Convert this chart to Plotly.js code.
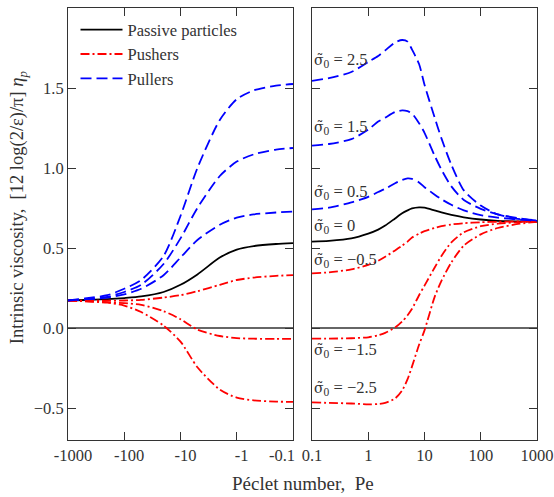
<!DOCTYPE html>
<html>
<head>
<meta charset="utf-8">
<script src="https://cdn.plot.ly/plotly-3.0.1.min.js"></script>
<style>html,body{margin:0;padding:0;background:#fff;}#chart{width:554px;height:497px;}</style>
</head>
<body>
<div id="chart"></div>
<script>
// Negative Péclet numbers (left panel)
const peLeft = [-1000, -500, -200, -100, -50, -20, -10, -5, -2, -1, -0.5, -0.2, -0.1];
const passiveL = [0.172, 0.175, 0.18, 0.187, 0.197, 0.225, 0.27, 0.335, 0.44, 0.49, 0.512, 0.525, 0.53];
const pull05L = [0.172, 0.178, 0.19, 0.21, 0.245, 0.33, 0.44, 0.55, 0.645, 0.69, 0.71, 0.722, 0.728];
const pull15L = [0.172, 0.18, 0.195, 0.225, 0.27, 0.40, 0.56, 0.75, 0.95, 1.04, 1.085, 1.115, 1.125];
const pull25L = [0.172, 0.185, 0.205, 0.245, 0.30, 0.45, 0.70, 1.00, 1.30, 1.43, 1.485, 1.515, 1.525];
const push05L = [0.172, 0.171, 0.171, 0.172, 0.176, 0.19, 0.205, 0.23, 0.27, 0.30, 0.315, 0.326, 0.33];
const push15L = [0.172, 0.168, 0.162, 0.155, 0.145, 0.105, 0.055, -0.01, -0.05, -0.063, -0.067, -0.068, -0.068];
const push25L = [0.172, 0.167, 0.158, 0.14, 0.10, 0.015, -0.085, -0.245, -0.385, -0.435, -0.452, -0.46, -0.462];

// Positive Péclet numbers (right panel)
const peRight = [0.1, 0.2, 0.5, 1, 1.5, 2, 3, 4, 5, 6, 8, 10, 15, 20, 30, 50, 100, 200, 500, 1000];
const passiveR = [0.54, 0.545, 0.56, 0.59, 0.615, 0.64, 0.685, 0.717, 0.735, 0.747, 0.754, 0.752, 0.735, 0.722, 0.707, 0.692, 0.678, 0.67, 0.666, 0.665];
const pull05R = [0.742, 0.752, 0.785, 0.82, 0.85, 0.87, 0.905, 0.925, 0.935, 0.932, 0.91, 0.88, 0.835, 0.805, 0.77, 0.735, 0.705, 0.69, 0.677, 0.67];
const pull15R = [1.14, 1.15, 1.18, 1.24, 1.29, 1.315, 1.35, 1.36, 1.355, 1.34, 1.28, 1.22, 1.08, 0.99, 0.885, 0.80, 0.745, 0.71, 0.685, 0.672];
const pull25R = [1.545, 1.562, 1.60, 1.663, 1.70, 1.735, 1.785, 1.80, 1.79, 1.74, 1.65, 1.52, 1.32, 1.185, 1.02, 0.86, 0.765, 0.71, 0.68, 0.672];
const push05R = [0.342, 0.348, 0.366, 0.394, 0.42, 0.445, 0.485, 0.515, 0.54, 0.565, 0.59, 0.605, 0.625, 0.637, 0.647, 0.655, 0.661, 0.664, 0.666, 0.667];
const push15R = [-0.066, -0.066, -0.064, -0.058, -0.045, -0.03, 0.003, 0.04, 0.08, 0.12, 0.205, 0.265, 0.375, 0.45, 0.535, 0.598, 0.636, 0.652, 0.662, 0.665];
const push25R = [-0.465, -0.468, -0.472, -0.477, -0.475, -0.468, -0.44, -0.39, -0.32, -0.24, -0.105, -0.015, 0.19, 0.295, 0.41, 0.515, 0.585, 0.625, 0.652, 0.664];

const leftTickVals = [1000, 100, 10, 1, 0.1];
const leftTickText = ['-1000', '-100', '-10', '-1', '-0.1'];
const rightTickVals = [0.1, 1, 10, 100, 1000];
const rightTickText = ['0.1', '1', '10', '100', '1000'];

const sigmaLabels = ['2.5', '1.5', '0.5', '0', '\u22120.5', '\u22121.5', '\u22122.5'];

const FONT = 'Liberation Serif, Times New Roman, serif';
const styles = {
  passive: {color: '#000000', width: 1.8, dash: 'solid'},
  pusher: {color: '#ff0000', width: 1.8, dash: '9px,3px,2px,3px'},
  puller: {color: '#0000ff', width: 1.8, dash: '11px,5px'}
};

const xl = peLeft.map(Math.abs);
function tr(x, y, kind, axis, name, show) {
  return {x: x, y: y, type: 'scatter', mode: 'lines', name: name, showlegend: show,
    xaxis: axis === 2 ? 'x2' : 'x', yaxis: axis === 2 ? 'y2' : 'y',
    line: Object.assign({shape: 'spline', smoothing: 0.7}, styles[kind]), hoverinfo: 'skip'};
}

const data = [
  tr(xl, passiveL, 'passive', 1, 'Passive particles', true),
  tr(xl, push05L, 'pusher', 1, 'Pushers', true),
  tr(xl, pull05L, 'puller', 1, 'Pullers', true),
  tr(xl, push15L, 'pusher', 1, 'Pushers', false),
  tr(xl, push25L, 'pusher', 1, 'Pushers', false),
  tr(xl, pull15L, 'puller', 1, 'Pullers', false),
  tr(xl, pull25L, 'puller', 1, 'Pullers', false),
  tr(peRight, passiveR, 'passive', 2, 'Passive particles', false),
  tr(peRight, push05R, 'pusher', 2, 'Pushers', false),
  tr(peRight, push15R, 'pusher', 2, 'Pushers', false),
  tr(peRight, push25R, 'pusher', 2, 'Pushers', false),
  tr(peRight, pull05R, 'puller', 2, 'Pullers', false),
  tr(peRight, pull15R, 'puller', 2, 'Pullers', false),
  tr(peRight, pull25R, 'puller', 2, 'Pullers', false)
];

const tickFont = {family: FONT, size: 16.5, color: '#333'};
const axCommon = {showline: true, linecolor: '#333', linewidth: 1, mirror: 'ticks', ticks: 'inside',
  ticklen: 8, tickwidth: 1, tickcolor: '#333', showgrid: false, automargin: false,
  tickfont: tickFont};

const yCommon = Object.assign({}, axCommon, {range: [-0.7, 2.0], dtick: 0.5, tick0: 0, tickformat: '.1f',
  zeroline: true, zerolinecolor: '#666', zerolinewidth: 2});

const sigY = [1.675, 1.256, 0.85, 0.6375, 0.425, -0.1375, -0.375];
const annotations = sigmaLabels.map((s, i) => ({
  xref: 'x2', yref: 'y2', x: -1, y: sigY[i], xanchor: 'left', yanchor: 'middle', xshift: 0,
  showarrow: false,
  text: '<span style="font-family:DejaVu Serif;font-size:14px">\u03c3\u0303</span><sub>0</sub> = ' + s,
  font: {family: FONT, size: 16.5, color: '#333'}
}));
// last left tick label, nudged left so it clears the right panel's "0.1"
annotations.push({xref: 'x', yref: 'paper', x: Math.log10(leftTickVals[4]), y: 0, yshift: -15, xshift: -11,
  xanchor: 'center', yanchor: 'middle', showarrow: false, text: leftTickText[4], font: tickFont});
annotations.push({xref: 'paper', yref: 'paper', x: 0.5, y: 0, yshift: -43, xanchor: 'center', yanchor: 'middle',
  showarrow: false, text: 'P\u00e9clet number,&nbsp; Pe', font: {family: FONT, size: 19, color: '#333'}});
annotations.push({xref: 'paper', yref: 'paper', x: -0.1066, y: 0.539, xanchor: 'center', yanchor: 'middle',
  textangle: -90, showarrow: false,
  text: 'Intrinsic viscosity,&nbsp; [12 log(2/\u03b5)/\u03c0] <i>\u03b7<sub>p</sub></i>',
  font: {family: FONT, size: 18.5, color: '#333'}});

const layout = {
  width: 554, height: 497,
  margin: {l: 68, r: 17, t: 8, b: 57},
  paper_bgcolor: '#fff', plot_bgcolor: '#fff',
  font: {family: FONT, color: '#333'},
  showlegend: true,
  legend: {x: 0.016, y: 0.99, xanchor: 'left', yanchor: 'top', bgcolor: 'rgba(0,0,0,0)',
    font: {family: FONT, size: 16.5, color: '#333'}, itemwidth: 42, traceorder: 'normal'},
  xaxis: Object.assign({}, axCommon, {type: 'log', domain: [0, 0.4797], range: [3, -1],
    tickvals: leftTickVals, ticktext: leftTickText.slice(0, 4).concat(['']), anchor: 'y', ticklabelshift: -5}),
  xaxis2: Object.assign({}, axCommon, {type: 'log', domain: [0.5203, 1], range: [-1, 3],
    tickvals: rightTickVals, ticktext: rightTickText, anchor: 'y2'}),
  yaxis: Object.assign({}, yCommon, {anchor: 'x'}),
  yaxis2: Object.assign({}, yCommon, {anchor: 'x2', matches: 'y', showticklabels: false}),
  annotations: annotations
};

Plotly.newPlot('chart', data, layout, {displayModeBar: false, staticPlot: true});
</script>
</body>
</html>
